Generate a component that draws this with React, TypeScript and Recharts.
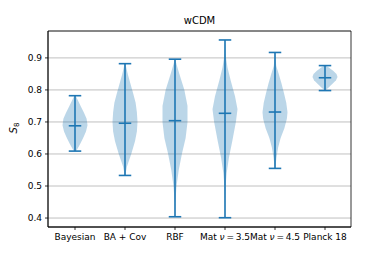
import React from 'react';
import {
  ScatterChart,
  Scatter,
  XAxis,
  YAxis,
  CartesianGrid,
  ReferenceLine,
  ReferenceArea,
  Label,
} from 'recharts';

// ---- data ----
const categories = ['Bayesian', 'BA + Cov', 'RBF', 'Mat ν\u2009=\u20093.5', 'Mat ν\u2009=\u20094.5', 'Planck 18'];
const positions = [1, 2, 3, 4, 5, 6];
const yTicks = [0.4, 0.5, 0.6, 0.7, 0.8, 0.9];

const mins = [0.609, 0.533, 0.404, 0.401, 0.555, 0.798];
const maxs = [0.782, 0.882, 0.896, 0.956, 0.917, 0.876];
const means = [0.688, 0.696, 0.704, 0.727, 0.731, 0.838];

// density profiles: [S8 value, relative half-width]
const kdeBayesian: [number, number][] = [
  [0.609, 0.1], [0.63, 0.4], [0.65, 0.65], [0.67, 0.88], [0.69, 1.0],
  [0.71, 0.93], [0.73, 0.7], [0.75, 0.45], [0.77, 0.2], [0.782, 0.05],
];
const kdeBACov: [number, number][] = [
  [0.533, 0.02], [0.56, 0.15], [0.6, 0.5], [0.64, 0.8], [0.67, 0.95], [0.7, 1.0],
  [0.73, 0.95], [0.76, 0.85], [0.79, 0.65], [0.82, 0.43], [0.85, 0.22], [0.882, 0.03],
];
const kdeRBF: [number, number][] = [
  [0.404, 0.0], [0.45, 0.03], [0.5, 0.12], [0.55, 0.3], [0.6, 0.55], [0.65, 0.85],
  [0.7, 1.0], [0.75, 1.0], [0.8, 0.75], [0.85, 0.35], [0.88, 0.12], [0.896, 0.02],
];
const kdeMat35: [number, number][] = [
  [0.401, 0.0], [0.46, 0.02], [0.5, 0.05], [0.54, 0.13], [0.59, 0.32], [0.64, 0.58],
  [0.7, 0.87], [0.74, 1.0], [0.78, 0.8], [0.83, 0.45], [0.87, 0.2], [0.9, 0.08], [0.956, 0.0],
];
const kdeMat45: [number, number][] = [
  [0.555, 0.02], [0.59, 0.12], [0.62, 0.25], [0.65, 0.45], [0.68, 0.75], [0.71, 0.95],
  [0.73, 1.0], [0.76, 0.9], [0.79, 0.72], [0.82, 0.52], [0.85, 0.3], [0.875, 0.1], [0.917, 0.0],
];
const kdePlanck: [number, number][] = [
  [0.799, 0.05], [0.81, 0.35], [0.82, 0.62], [0.83, 0.88], [0.84, 1.0],
  [0.85, 0.92], [0.86, 0.65], [0.87, 0.3], [0.876, 0.05],
];

const kdes = [kdeBayesian, kdeBACov, kdeRBF, kdeMat35, kdeMat45, kdePlanck];

// ---- styling ----
const VIOLIN_HALF = 0.25;
const CAP_HALF = 0.125;
const BLUE = '#1f77b4';
const FONT = 'DejaVu Sans, sans-serif';

function violinPoints(pos: number, kde: [number, number][]) {
  const right = kde.map(([y, w]) => ({ x: pos + VIOLIN_HALF * w, y }));
  const left = [...kde].reverse().map(([y, w]) => ({ x: pos - VIOLIN_HALF * w, y }));
  return [...right, ...left];
}

const ViolinFill = (p: any) => {
  const pts = (p.points || []) as { x: number; y: number }[];
  const str = pts.map((q) => `${q.x},${q.y}`).join(' ');
  return <polygon points={str} fill={BLUE} fillOpacity={0.3} stroke="none" />;
};

const XTick = (props: any) => {
  const { x, y, payload } = props;
  const label = categories[Math.round(payload.value) - 1] || '';
  const idx = label.indexOf('ν');
  return (
    <text x={x} y={y} dy="0.71em" textAnchor="middle" fontFamily={FONT} fontSize={9} fill="#000">
      {idx >= 0 ? (
        <>
          <tspan>{label.slice(0, idx)}</tspan>
          <tspan fontStyle="italic">ν</tspan>
          <tspan>{label.slice(idx + 1)}</tspan>
        </>
      ) : (
        label
      )}
    </text>
  );
};

const YLabel = () => (
  <text
    x={17}
    y={128}
    transform="rotate(-90 17 128)"
    textAnchor="middle"
    fontFamily={FONT}
    fontSize={10}
    fill="#000"
  >
    <tspan fontStyle="italic">S</tspan>
    <tspan fontSize={7} dy={2}>8</tspan>
  </text>
);

export default function App() {
  return (
    <div style={{ position: 'absolute', left: 0, top: 0, width: 390, height: 260, background: '#fff' }}>
      <div
        style={{
          position: 'absolute',
          left: 48,
          width: 303,
          top: 15,
          textAlign: 'center',
          fontFamily: FONT,
          fontSize: 10,
          lineHeight: '12px',
          color: '#000',
        }}
      >
        wCDM
      </div>
      <ScatterChart width={390} height={260} margin={{ top: 31, right: 39, bottom: 0, left: 0 }}>
        <CartesianGrid vertical={false} stroke="#b0b0b0" strokeWidth={0.8} />
        <XAxis
          type="number"
          dataKey="x"
          domain={[0.46, 6.52]}
          allowDataOverflow
          ticks={positions}
          interval={0}
          height={33}
          tickSize={3}
          tickMargin={4}
          tick={<XTick />}
          axisLine={{ stroke: '#000', strokeWidth: 0.8 }}
          tickLine={{ stroke: '#000', strokeWidth: 0.8 }}
        />
        <YAxis
          type="number"
          dataKey="y"
          domain={[0.372, 0.984]}
          allowDataOverflow
          ticks={yTicks}
          interval={0}
          tickFormatter={(v: number) => v.toFixed(1)}
          width={48}
          tickSize={3}
          tickMargin={3}
          tick={{ fontSize: 9, fill: '#000', fontFamily: FONT }}
          axisLine={{ stroke: '#000', strokeWidth: 0.8 }}
          tickLine={{ stroke: '#000', strokeWidth: 0.8 }}
        >
          <Label content={<YLabel />} />
        </YAxis>
        <ReferenceArea
          x1={0.46}
          x2={6.52}
          y1={0.372}
          y2={0.984}
          fill="none"
          stroke="#000"
          strokeWidth={0.8}
          ifOverflow="visible"
        />
        {kdes.map((kde, i) => (
          <Scatter
            key={`v${i}`}
            data={violinPoints(positions[i], kde)}
            shape={() => <g />}
            line={ViolinFill}
            lineType="joint"
            isAnimationActive={false}
          />
        ))}
        {positions.map((pos, i) => (
          <ReferenceLine
            key={`bar${i}`}
            segment={[{ x: pos, y: mins[i] }, { x: pos, y: maxs[i] }]}
            stroke={BLUE}
            strokeWidth={1.6}
          />
        ))}
        {positions.map((pos, i) => (
          <ReferenceLine
            key={`min${i}`}
            segment={[{ x: pos - CAP_HALF, y: mins[i] }, { x: pos + CAP_HALF, y: mins[i] }]}
            stroke={BLUE}
            strokeWidth={1.6}
          />
        ))}
        {positions.map((pos, i) => (
          <ReferenceLine
            key={`max${i}`}
            segment={[{ x: pos - CAP_HALF, y: maxs[i] }, { x: pos + CAP_HALF, y: maxs[i] }]}
            stroke={BLUE}
            strokeWidth={1.6}
          />
        ))}
        {positions.map((pos, i) => (
          <ReferenceLine
            key={`mean${i}`}
            segment={[{ x: pos - CAP_HALF, y: means[i] }, { x: pos + CAP_HALF, y: means[i] }]}
            stroke={BLUE}
            strokeWidth={1.6}
          />
        ))}
      </ScatterChart>
    </div>
  );
}
